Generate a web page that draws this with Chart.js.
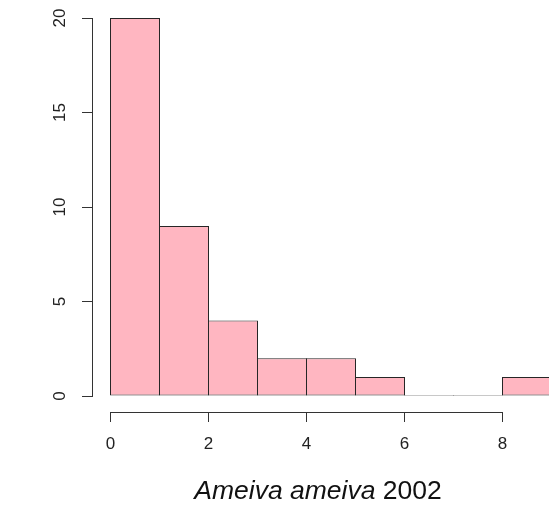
<!DOCTYPE html>
<html>
<head>
<meta charset="utf-8">
<script src="https://cdn.jsdelivr.net/npm/chart.js@4"></script>
<style>
  html, body { margin: 0; padding: 0; background: #fff; }
  #wrap { position: relative; width: 549px; height: 508px; overflow: hidden; }
  #chart { position: absolute; left: 0; top: 0; }
  #caption {
    position: absolute; left: 118px; width: 400px; top: 475px;
    text-align: center; font: 26.5px "Liberation Sans", Arial, sans-serif;
    line-height: 30px; color: #111; white-space: nowrap;
  }
</style>
</head>
<body>
<div id="wrap">
  <canvas id="chart" width="549" height="508"></canvas>
  <div id="caption"><i>Ameiva ameiva</i> 2002</div>
</div>
<script>
// Histogram bins (left edges, width 1) and their counts
const binStarts = [0, 1, 2, 3, 4, 5, 6, 7, 8];
const binCounts = [20, 9, 4, 2, 2, 1, 0, 0, 1];
const xTickValues = [0, 2, 4, 6, 8];
const yTickValues = [0, 5, 10, 15, 20];

const axisColor = '#333';
const tickFont = { family: '"Liberation Sans", Arial, sans-serif', size: 17 };

// R-style detached x axis line, spanning the first to last tick only
const detachedXAxis = {
  id: 'detachedXAxis',
  afterDraw(chart) {
    const xs = chart.scales.x, ys = chart.scales.y;
    const y = Math.round(ys.getPixelForValue(0) + 16) + 0.5;
    const ctx = chart.ctx;
    ctx.save();
    ctx.strokeStyle = axisColor;
    ctx.lineWidth = 1;
    ctx.beginPath();
    ctx.moveTo(Math.round(xs.getPixelForValue(xTickValues[0])), y);
    ctx.lineTo(Math.round(xs.getPixelForValue(xTickValues[xTickValues.length - 1])) + 1, y);
    ctx.stroke();
    ctx.restore();
  }
};

new Chart(document.getElementById('chart'), {
  type: 'bar',
  data: {
    datasets: [{
      data: binStarts.map((s, i) => ({ x: s + 0.5, y: binCounts[i] })),
      backgroundColor: '#ffb6c1',
      borderColor: '#262626',
      borderWidth: 1,
      borderSkipped: false,
      minBarLength: 1,
      categoryPercentage: 1,
      barPercentage: 50 / 49
    }]
  },
  options: {
    responsive: false,
    animation: false,
    events: [],
    layout: { padding: { top: 18, left: 0, right: 0, bottom: 0 } },
    plugins: { legend: { display: false }, tooltip: { enabled: false }, title: { display: false } },
    scales: {
      x: {
        type: 'linear',
        offset: false,
        min: -18.5 / 49,
        max: -18.5 / 49 + 457 / 49,
        afterFit(s) { s.height = 112; s.paddingLeft = 0; s.paddingRight = 0; },
        afterBuildTicks(s) { s.ticks = xTickValues.map(v => ({ value: v })); },
        border: { display: false },
        grid: {
          offset: false,
          drawOnChartArea: false,
          drawTicks: true,
          tickLength: 26,
          tickColor: axisColor,
          tickWidth: 1,
          tickBorderDash: [0, 16, 10, 100]
        },
        ticks: { color: '#222', font: tickFont, padding: 12, maxRotation: 0, autoSkip: false }
      },
      y: {
        min: 0,
        max: 20,
        afterFit(s) { s.width = 92; s.paddingTop = 0; s.paddingBottom = 0; },
        afterBuildTicks(s) { s.ticks = yTickValues.map(v => ({ value: v })); },
        border: { display: true, color: axisColor, width: 1 },
        grid: {
          drawOnChartArea: false,
          drawTicks: true,
          tickLength: 10,
          tickColor: axisColor
        },
        ticks: {
          color: '#222', font: tickFont, padding: 12,
          minRotation: 90, maxRotation: 90, crossAlign: 'center'
        }
      }
    }
  },
  plugins: [detachedXAxis]
});
</script>
</body>
</html>
